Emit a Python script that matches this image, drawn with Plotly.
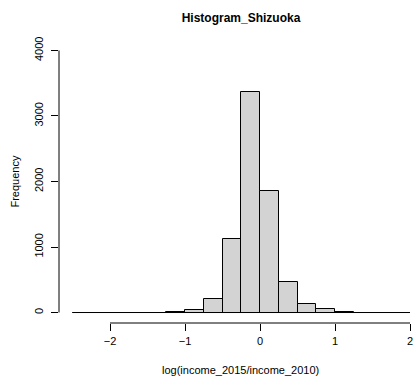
import plotly.graph_objects as go

# Data (bin width 0.25)
bin_edges = [-2.5, -2.25, -2.0, -1.75, -1.5, -1.25, -1.0, -0.75, -0.5, -0.25,
             0.0, 0.25, 0.5, 0.75, 1.0, 1.25, 1.5, 1.75, 2.0]
counts = [0, 0, 0, 0, 0, 15, 45, 210, 1120, 3365, 1850, 470, 130, 60, 15, 0, 0, 0]
x_ticks = [-2, -1, 0, 1, 2]
y_ticks = [0, 1000, 2000, 3000, 4000]

centers = [(a + b) / 2 for a, b in zip(bin_edges[:-1], bin_edges[1:])]
widths = [b - a for a, b in zip(bin_edges[:-1], bin_edges[1:])]

font = "Liberation Sans, Arial, sans-serif"

fig = go.Figure()
fig.add_trace(go.Scatter(x=[bin_edges[0], bin_edges[-1]], y=[0, 0], mode="lines",
                         line=dict(color="black", width=1), hoverinfo="skip", showlegend=False))
fig.add_trace(go.Bar(x=centers, y=counts, width=widths,
                     marker=dict(color="#D3D3D3", line=dict(color="black", width=1)),
                     showlegend=False))

# axis lines spanning first to last tick (R style)
fig.add_shape(type="line", xref="x", yref="paper", x0=x_ticks[0], x1=x_ticks[-1], y0=0, y1=0,
              line=dict(color="black", width=1))
fig.add_shape(type="line", xref="paper", yref="y", x0=0, x1=0, y0=y_ticks[0], y1=y_ticks[-1],
              line=dict(color="black", width=1))

fig.add_annotation(text="log(income_2015/income_2010)", xref="paper", yref="paper",
                   x=0.514, y=-0.165, xanchor="center", yanchor="middle", showarrow=False,
                   font=dict(size=11))
fig.add_annotation(text="Frequency", xref="paper", yref="paper", textangle=-90,
                   x=-0.127, y=0.5, xanchor="center", yanchor="middle", showarrow=False,
                   font=dict(size=11))

fig.update_layout(
    width=413, height=378,
    margin=dict(l=59, r=0, t=39.5, b=54.8),
    paper_bgcolor="white", plot_bgcolor="white",
    font=dict(family=font, size=11, color="black"),
    title=dict(text="<b>Histogram_Shizuoka</b>", x=0.5835, xanchor="center", y=1 - 18 / 378,
               yanchor="middle", font=dict(size=12)),
    bargap=0,
    xaxis=dict(range=[-2.68, 2.04], tickvals=x_ticks, ticks="outside", ticklen=7,
               tickcolor="black", showgrid=False, zeroline=False, showline=False,
               ticklabelstandoff=1, ticklabeloverflow="allow"),
    yaxis=dict(range=[-160, 4160], tickvals=y_ticks, ticks="outside", ticklen=7,
               tickcolor="black", showgrid=False, zeroline=False, showline=False,
               tickangle=-90, ticklabelstandoff=4),
)

fig.write_html("out.html")
